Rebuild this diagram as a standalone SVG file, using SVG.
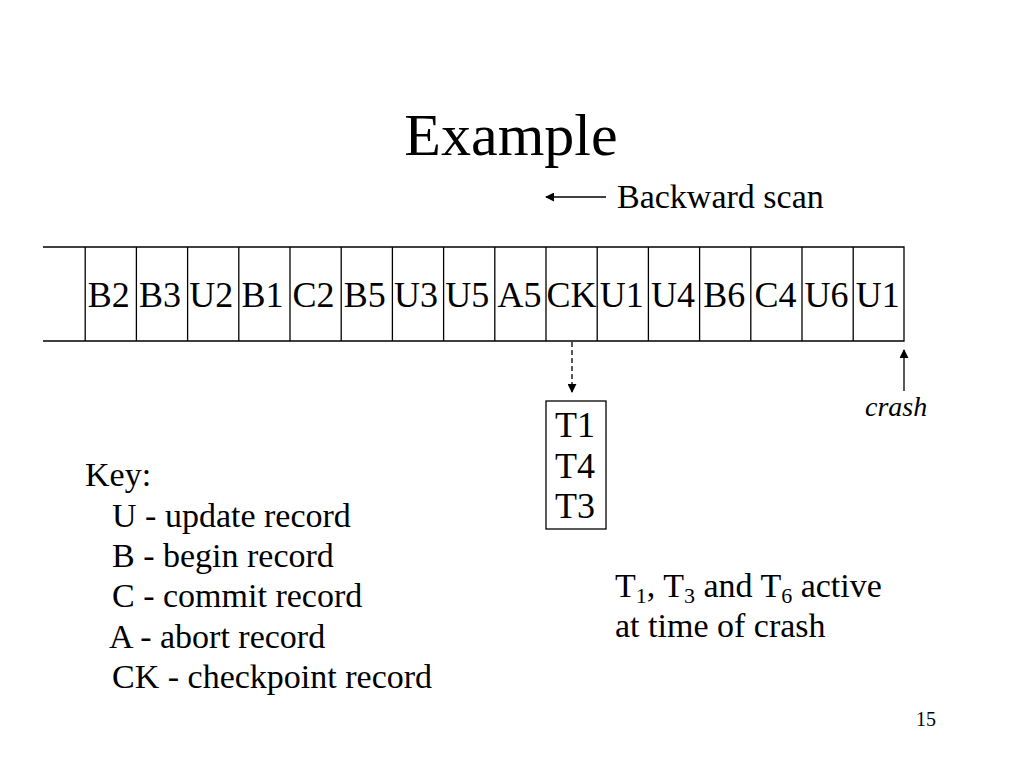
<svg xmlns="http://www.w3.org/2000/svg" width="1024" height="768" viewBox="0 0 1024 768">
<style>
text{font-family:"Liberation Serif","Times New Roman",serif;fill:#000}
.cell{font-size:36px;text-anchor:middle}
.t34{font-size:34px}
.ln{stroke:#000;stroke-width:1.3;fill:none}
</style>
<defs>
<marker id="ah" viewBox="0 0 10 10" refX="9" refY="5" markerWidth="9" markerHeight="9" markerUnits="userSpaceOnUse" orient="auto">
<path d="M0,0 L10,5 L0,10 z" fill="#000"/>
</marker>
</defs>
<rect width="1024" height="768" fill="#fff"/>
<text x="511" y="155" font-size="60" text-anchor="middle">Example</text>

<g id="log">
<path class="ln" d="M43,247 H904 V341 H43"/>
<path class="ln" d="M85.2,247V341 M136.4,247V341 M187.6,247V341 M238.8,247V341 M290,247V341 M341.2,247V341 M392.4,247V341 M443.6,247V341 M494.8,247V341 M546,247V341 M597.2,247V341 M648.4,247V341 M699.6,247V341 M750.8,247V341 M802,247V341 M853.2,247V341"/>
<text class="cell" x="108.8" y="307">B2</text>
<text class="cell" x="160" y="307">B3</text>
<text class="cell" x="211.2" y="307">U2</text>
<text class="cell" x="262.4" y="307">B1</text>
<text class="cell" x="313.6" y="307">C2</text>
<text class="cell" x="364.8" y="307">B5</text>
<text class="cell" x="416" y="307">U3</text>
<text class="cell" x="467.2" y="307">U5</text>
<text class="cell" x="519.4" y="307">A5</text>
<text class="cell" x="571.6" y="307">CK</text>
<text class="cell" x="621.8" y="307">U1</text>
<text class="cell" x="673" y="307">U4</text>
<text class="cell" x="724.2" y="307">B6</text>
<text class="cell" x="775.4" y="307">C4</text>
<text class="cell" x="826.6" y="307">U6</text>
<text class="cell" x="877.8" y="307">U1</text>
</g>

<g id="scan-label">
<text class="t34" x="617" y="208">Backward scan</text>
</g>

<g id="active-box">
<rect x="546" y="401" width="60" height="128" fill="none" stroke="#000" stroke-width="1.3"/>
<text class="cell" x="575" y="437">T1</text>
<text class="cell" x="575" y="478">T4</text>
<text class="cell" x="575" y="518">T3</text>
</g>

<g id="crash-label">
<text x="865" y="416" font-size="28" font-style="italic">crash</text>
</g>

<g id="note">
<text class="t34" x="615" y="597">T<tspan font-size="22" dy="6">1</tspan><tspan dy="-6">, T</tspan><tspan font-size="22" dy="6">3</tspan><tspan dy="-6"> and T</tspan><tspan font-size="22" dy="6">6</tspan><tspan dy="-6"> active</tspan></text>
<text class="t34" x="615" y="637">at time of crash</text>
</g>

<g id="key">
<text class="t34" x="85" y="486">Key:</text>
<text class="t34" x="112" y="527">U - update record</text>
<text class="t34" x="112" y="567">B - begin record</text>
<text class="t34" x="112" y="607">C - commit record</text>
<text class="t34" x="109" y="648">A - abort record</text>
<text class="t34" x="112" y="688">CK - checkpoint record</text>
</g>

<g id="connectors">
<line class="ln" x1="606" y1="197" x2="546" y2="197" marker-end="url(#ah)"/>
<line class="ln" x1="572" y1="342" x2="572" y2="392" stroke-dasharray="5,3" marker-end="url(#ah)"/>
<line class="ln" x1="904" y1="391" x2="904" y2="350" marker-end="url(#ah)"/>
</g>

<text x="936" y="726" font-size="20" text-anchor="end">15</text>
</svg>
